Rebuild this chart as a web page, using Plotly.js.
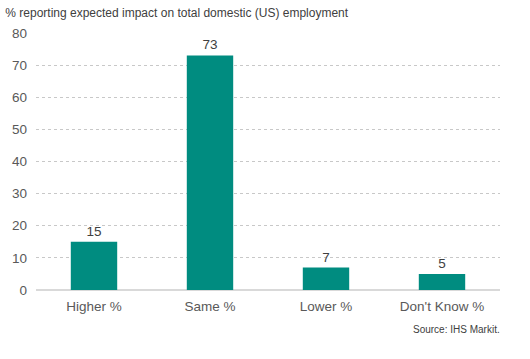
<!DOCTYPE html>
<html><head><meta charset="utf-8">
<script src="https://cdn.plot.ly/plotly-3.0.1.min.js"></script>
<style>html,body{margin:0;padding:0;background:#fff}</style>
</head><body>
<div id="chart" style="width:530px;height:359px"></div>
<script>
const categories = ["Higher %", "Same %", "Lower %", "Don't Know %"];
const values = [15, 73, 7, 5];
const labels = ["15", "73", "7", "5"];
const yTicks = [0, 10, 20, 30, 40, 50, 60, 70, 80];

Plotly.newPlot("chart", [{
  type: "bar", x: categories, y: values,
  text: labels, textposition: "outside", cliponaxis: false,
  textfont: {family: "Liberation Sans, Arial", size: 13.5, color: "#404040"},
  marker: {color: "#008C80"}, hoverinfo: "none"
}], {
  width: 530, height: 359,
  margin: {l: 36, r: 30, t: 33, b: 69},
  paper_bgcolor: "#fff", plot_bgcolor: "#fff",
  bargap: 0.6,
  font: {family: "Liberation Sans, Arial", color: "#595959"},
  title: {text: "% reporting expected impact on total domestic (US) employment",
    x: 0.01, xanchor: "left", y: 0.975, yanchor: "top",
    font: {size: 12, color: "#404040"}},
  xaxis: {tickfont: {size: 13.5, color: "#595959"}, showline: false, ticks: "", showgrid: false, zeroline: false,
    ticklabelstandoff: 6},
  yaxis: {range: [0, 80], tickvals: yTicks, tickfont: {size: 13.5, color: "#595959"},
    showgrid: true, gridcolor: "#c8c8c8", griddash: "dot", gridwidth: 1,
    zeroline: true, zerolinecolor: "#d9d9d9", zerolinewidth: 2, ticks: "", ticklen: 0, automargin: false,
    ticklabelstandoff: 8},
  annotations: [{text: "Source: IHS Markit.", xref: "paper", yref: "paper", x: 1.005, y: -0.125,
    xanchor: "right", yanchor: "top", showarrow: false, font: {size: 10, color: "#404040"}}]
}, {displayModeBar: false, staticPlot: true});
</script>
</body></html>
